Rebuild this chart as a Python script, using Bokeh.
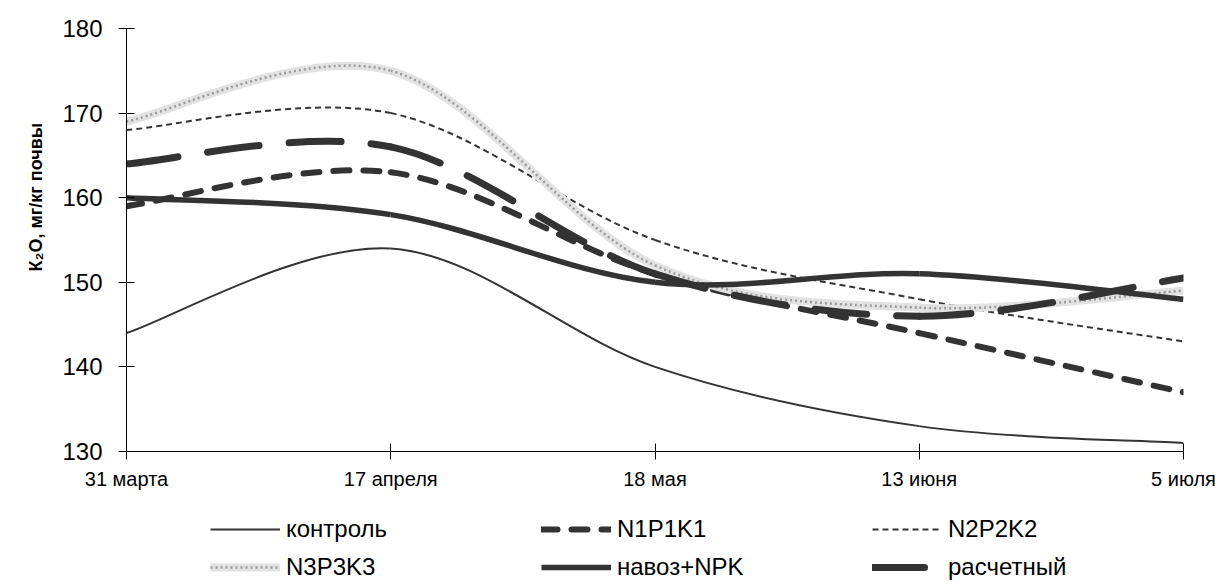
from bokeh.plotting import figure
from bokeh.layouts import column
from bokeh.models import (Range1d, FixedTicker, Legend, LegendItem, Title,
                          ColumnDataSource)
from bokeh.embed import file_html
from bokeh.resources import INLINE

# ---- data -------------------------------------------------------------
dates = ["31 марта", "17 апреля", "18 мая", "13 июня", "5 июля"]
kontrol = [144, 154, 140, 133, 131]
n1p1k1 = [159, 163, 151, 144, 137]
n2p2k2 = [168, 170, 155, 148, 143]
n3p3k3 = [169, 175, 152, 147, 149]
navoz_npk = [160, 158, 150, 151, 148]
raschetny = [164, 166, 151, 146, 150.5]
y_ticks = [130, 140, 150, 160, 170, 180]
series_names = ["контроль", "N1P1K1", "N2P2K2", "N3P3K3", "навоз+NPK", "расчетный"]

FONT = "Liberation Sans"
DARK = "#333333"

STYLES = [
    [dict(line_color=DARK, line_width=2)],
    [dict(line_color=DARK, line_width=6, line_dash="16 14", line_cap="round")],
    [dict(line_color=DARK, line_width=2, line_dash="6 4")],
    [dict(line_color="#e2e2e2", line_width=8),
     dict(line_color="#9a9a9a", line_width=2.5, line_dash="2 3")],
    [dict(line_color=DARK, line_width=5.5)],
    [dict(line_color=DARK, line_width=7, line_dash="52 30", line_cap="round")],
]


def smooth_source(vals):
    """Cubic Bezier segments (Excel-style smoothed line) through the points."""
    xs = list(range(len(vals)))
    n = len(vals)
    d = dict(x0=[], y0=[], x1=[], y1=[], cx0=[], cy0=[], cx1=[], cy1=[])
    for i in range(n - 1):
        im, ip2 = max(i - 1, 0), min(i + 2, n - 1)
        d["x0"].append(xs[i]); d["y0"].append(vals[i])
        d["x1"].append(xs[i + 1]); d["y1"].append(vals[i + 1])
        d["cx0"].append(xs[i] + (xs[i + 1] - xs[im]) / 6)
        d["cy0"].append(vals[i] + (vals[i + 1] - vals[im]) / 6)
        d["cx1"].append(xs[i + 1] - (xs[ip2] - xs[i]) / 6)
        d["cy1"].append(vals[i + 1] - (vals[ip2] - vals[i]) / 6)
    return ColumnDataSource(d)


p = figure(width=1219, height=500, output_backend="svg", toolbar_location=None,
           x_range=Range1d(0, len(dates) - 1), y_range=Range1d(130, 180),
           min_border_left=126, min_border_right=36, min_border_top=28,
           min_border_bottom=49)
p.grid.visible = False
p.outline_line_color = None
p.background_fill_color = "white"
p.border_fill_color = "white"

BZ = dict(x0="x0", y0="y0", x1="x1", y1="y1", cx0="cx0", cy0="cy0", cx1="cx1", cy1="cy1")

all_series = [kontrol, n1p1k1, n2p2k2, n3p3k3, navoz_npk, raschetny]
for vals, styles in zip(all_series, STYLES):
    src = smooth_source(vals)
    for st in styles:
        p.bezier(source=src, **BZ, **st)

# ---- axes ---------------------------------------------------------------
xa = p.xaxis[0]
xa.ticker = FixedTicker(ticks=list(range(len(dates))))
xa.major_label_overrides = {i: d for i, d in enumerate(dates)}
xa.major_tick_in = 8
xa.major_tick_out = 8
xa.minor_tick_in = 0
xa.minor_tick_out = 0
xa.major_label_standoff = 8
xa.major_label_text_font = FONT
xa.major_label_text_font_size = "20px"
xa.major_label_text_color = "black"
xa.axis_line_color = "black"
xa.major_tick_line_color = "black"

ya = p.yaxis[0]
ya.ticker = FixedTicker(ticks=y_ticks)
ya.major_tick_in = 8
ya.major_tick_out = 8
ya.minor_tick_in = 0
ya.minor_tick_out = 0
ya.major_label_standoff = 16
ya.major_label_text_font = FONT
ya.major_label_text_font_size = "24px"
ya.major_label_text_color = "black"
ya.axis_line_color = "black"
ya.major_tick_line_color = "black"

ytitle = Title(text="К₂O, мг/кг почвы", align="left", offset=180,
               text_font=FONT, text_font_size="18px", text_font_style="bold",
               text_color="black", standoff=28)
p.add_layout(ytitle, "left")

# ---- legend (separate strip below the chart) ------------------------------
lg = figure(width=1219, height=87, output_backend="svg", toolbar_location=None,
            x_range=Range1d(0, 1), y_range=Range1d(0, 1),
            min_border_left=0, min_border_right=0, min_border_top=0,
            min_border_bottom=0)
lg.axis.visible = False
lg.grid.visible = False
lg.outline_line_color = None
lg.background_fill_color = "white"
lg.border_fill_color = "white"

items = []
for name, vals, styles in zip(series_names, all_series, STYLES):
    rs = [lg.line(x=list(range(len(vals))), y=vals, visible=False, **st) for st in styles]
    items.append(LegendItem(label=name, renderers=rs))

legend = Legend(items=items, orientation="horizontal", ncols=3, location=(84, 6),
                glyph_width=70, glyph_height=20, label_standoff=6, label_width=245,
                label_height=26, spacing=10, padding=0, margin=0,
                label_text_font=FONT, label_text_font_size="24px",
                label_text_color="black", inactive_fill_alpha=0,
                border_line_color=None, background_fill_alpha=0)
lg.add_layout(legend, "center")

layout = column(p, lg, spacing=0)
open("out.html", "w").write(file_html(layout, INLINE))
